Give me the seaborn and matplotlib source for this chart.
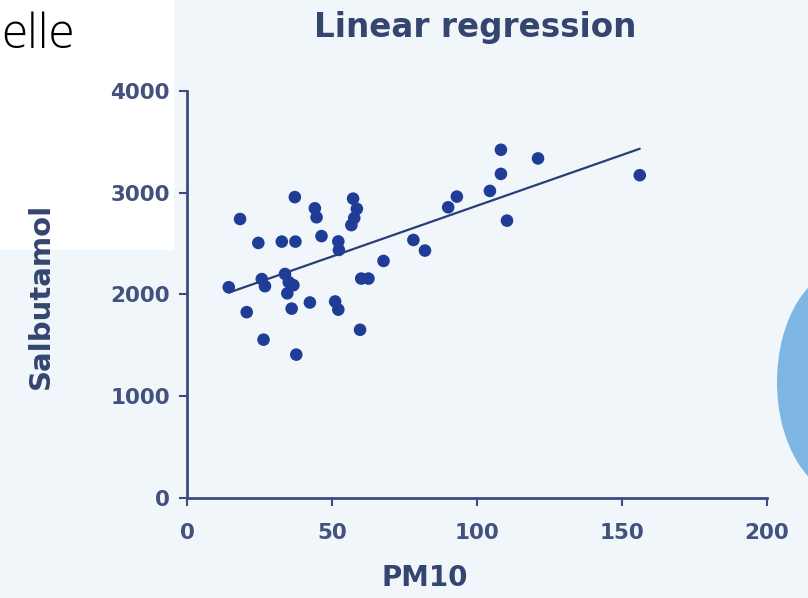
import numpy as np
import pandas as pd
import matplotlib
matplotlib.use("Agg")
import matplotlib.pyplot as plt
from matplotlib.patches import Ellipse, Rectangle
import seaborn as sns

# ---- data ----
pm10 = [14.3, 18.2, 20.5, 24.5, 25.7, 26.8, 26.3, 32.6, 37.3, 33.7,
        35.0, 36.6, 34.5, 36.0, 37.1, 37.6, 42.3, 44.0, 44.6, 46.3,
        52.1, 52.3, 51.0, 52.1, 57.2, 58.5, 57.6, 56.6, 60.0, 62.5,
        59.6, 67.7, 78.0, 82.0, 90.0, 93.0, 104.4, 108.2, 108.2, 110.3,
        121.0, 156.1]
salbutamol = [2070, 2740, 1825, 2505, 2150, 2080, 1555, 2518, 2518, 2200,
              2120, 2090, 2010, 1860, 2955, 1408, 1920, 2845, 2757, 2572,
              2520, 2436, 1930, 1850, 2940, 2840, 2750, 2680, 2155, 2155,
              1652, 2328, 2534, 2430, 2855, 2960, 3016, 3183, 3420, 2724,
              3335, 3170]
x_ticks = [0, 50, 100, 150, 200]
y_ticks = [0, 1000, 2000, 3000, 4000]
title_text = "Linear regression"
x_label = "PM10"
y_label = "Salbutamol"
slide_text = "elle"

sns.set_theme(style="ticks")
plt.rcParams["font.family"] = ["DejaVu Sans"]

W, H = 808, 598
fig = plt.figure(figsize=(W / 100, H / 100), dpi=100, facecolor="#f1f6fb")

# slide decorations
fig.add_artist(Rectangle((0, 1 - 250 / H), 174 / W, 250 / H, transform=fig.transFigure,
                         facecolor="white", edgecolor="none", zorder=0))
fig.add_artist(Ellipse((848 / W, 1 - 382 / H), 142 / W, 228 / H, transform=fig.transFigure,
                       facecolor="#7db6e3", edgecolor="none", zorder=0))

ax = fig.add_axes([187.3 / W, 1 - 498 / H, (767 - 187.3) / W, (498 - 90.7) / H])
ax.set_facecolor("none")

df = pd.DataFrame({"PM10": pm10, "Salbutamol": salbutamol})
dot_color = "#1f3d96"
axis_color = "#3b4c80"
text_color = "#34456f"
sns.regplot(data=df, x="PM10", y="Salbutamol", ax=ax, ci=None, truncate=True,
            color=dot_color,
            scatter_kws=dict(s=82, edgecolor="none", alpha=1, zorder=3),
            line_kws=dict(color="#2b3d78", lw=1.6, zorder=2))

ax.set_xlim(0, 200)
ax.set_ylim(0, 4000)
ax.set_xticks(x_ticks)
ax.set_yticks(y_ticks)
sns.despine(ax=ax)
for s in ["left", "bottom"]:
    ax.spines[s].set_color(axis_color)
    ax.spines[s].set_linewidth(2.0)

ax.tick_params(axis="both", direction="out", length=5.5, width=1.5, color=axis_color,
               labelcolor="#42527d", labelsize=15.5)
ax.tick_params(axis="x", pad=12.5)
ax.tick_params(axis="y", pad=7)
for lab in ax.get_xticklabels() + ax.get_yticklabels():
    lab.set_fontweight("bold")

ax.set_xlabel(x_label, fontsize=20, fontweight="bold", color=text_color, va="center")
ax.xaxis.set_label_coords((425 - 187.3) / 579.7, (498 - 578) / 407.3)
ax.set_ylabel(y_label, fontsize=21, fontweight="bold", color=text_color, va="center")
ax.yaxis.set_label_coords((41 - 187.3) / 579.7, (498 - 296) / 407.3)

fig.text(475 / W, 1 - 28 / H, title_text, ha="center", va="center", fontsize=23.5,
         fontweight="bold", color=text_color)
fig.text(1 / W, 1 - 48 / H, slide_text, ha="left", va="baseline", fontsize=34,
         family=["Open Sans", "DejaVu Sans"], fontweight="light", color="black")

fig.savefig("out.png", dpi=100, facecolor=fig.get_facecolor())
